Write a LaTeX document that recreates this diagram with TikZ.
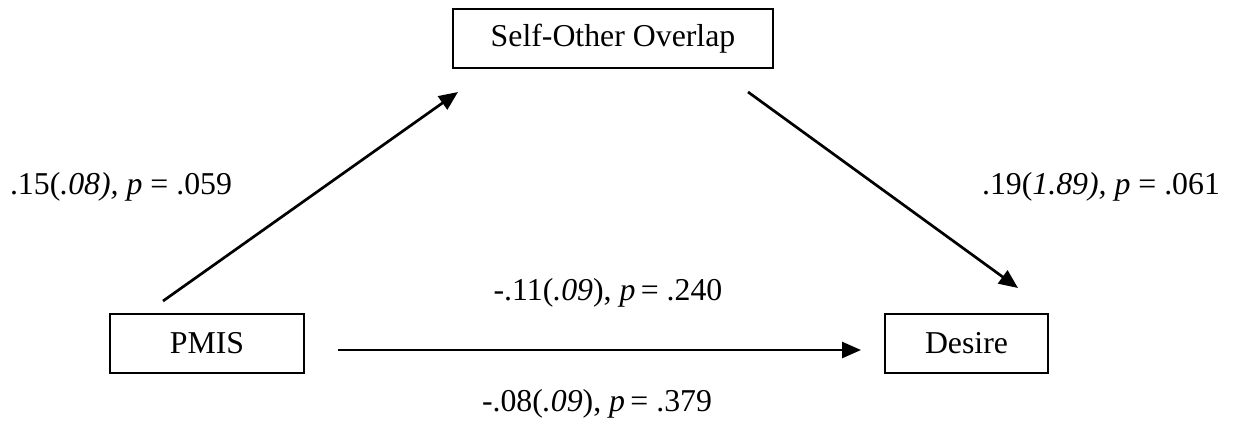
\documentclass[tikz,border=0pt]{standalone}
\usepackage{fontspec}
\setmainfont{Liberation Serif}
\usetikzlibrary{arrows.meta}
\begin{document}
\begin{tikzpicture}[x=0.5pt,y=-0.5pt,
  box/.style={draw,line width=1pt,minimum height=29.5pt,inner sep=0pt,font=\fontsize{15.9}{19}\selectfont},
  lbl/.style={inner sep=0pt,font=\fontsize{15.9}{19}\selectfont},
  arr/.style={line width=1.35pt,-{Triangle[length=9.5pt,width=8pt]}}]
\useasboundingbox (0,0) rectangle (1234,429);
\node[box,minimum width=160pt] (soo) at (613,38.5) {Self-Other Overlap};
\node[box,minimum width=97pt] (pmis) at (207,343.5) {PMIS};
\node[box,minimum width=81.5pt] (des) at (966.5,343.5) {Desire};
\coordinate (a1s) at (163,301);
\coordinate (a1e) at (458,92);
\coordinate (a2s) at (748,92);
\coordinate (a2e) at (1018,288);
\coordinate (a3s) at (338,350);
\coordinate (a3e) at (861,350);
\draw[arr] (a1s) -- (a1e);
\draw[arr] (a2s) -- (a2e);
\draw[arr] (a3s) -- (a3e);
\node[lbl] (l1) at (121,187) {.15(\textit{.08),} \textit{p} = .059};
\node[lbl] (l2) at (1101,187) {.19(\textit{1.89),} \textit{p} = .061};
\node[lbl] (l3) at (608,293) {-.11(\textit{.09}), \textit{p}\,= .240};
\node[lbl] (l4) at (597,404) {-.08(\textit{.09}), \textit{p}\,= .379};
\end{tikzpicture}
\end{document}
